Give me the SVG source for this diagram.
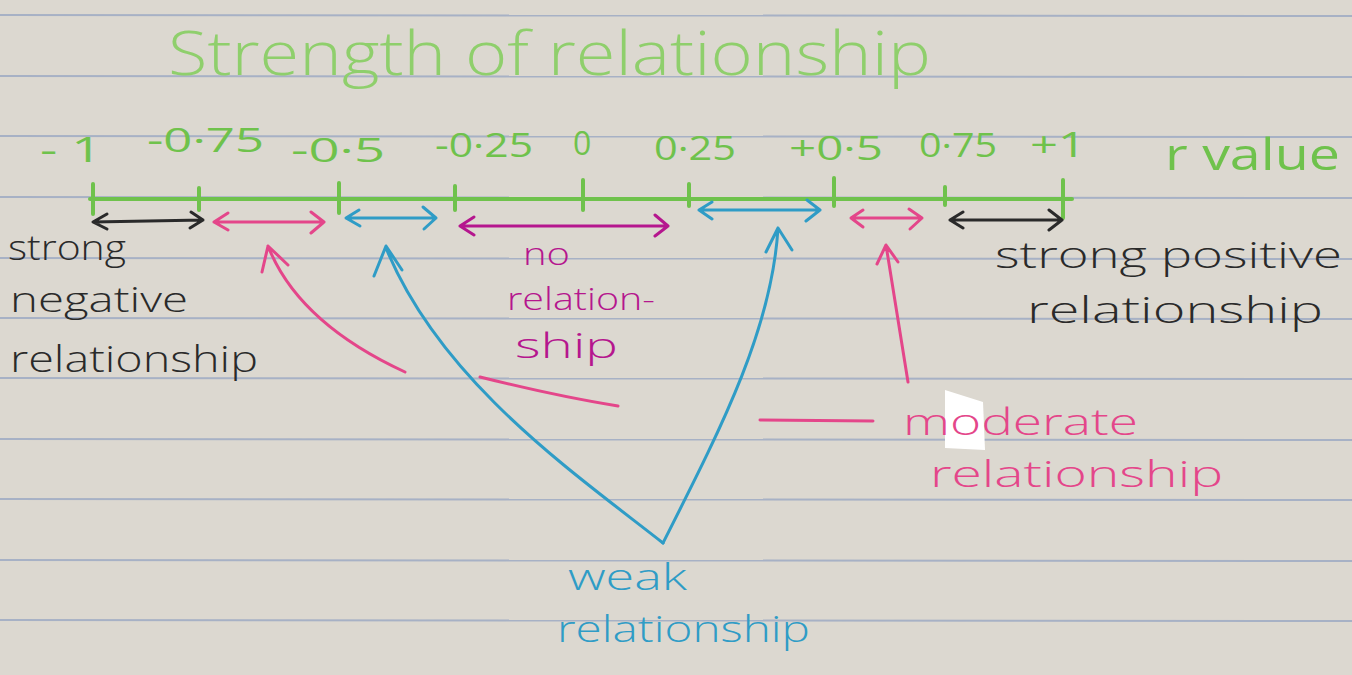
<svg xmlns="http://www.w3.org/2000/svg" width="1352" height="675" viewBox="0 0 1352 675">
<defs>
<style>
.paper{fill:#dcd8d0}
.rule{stroke:#a7b1c5;stroke-width:2}
.t{font-family:"Open Sans","Liberation Sans",sans-serif;font-weight:300}
.n{font-weight:400}
.green{fill:#6fc24c}
.title{fill:#8fcf6c}
.blk{fill:#2a2a2a}
.pink{fill:#e4468a}
.mag{fill:#b5168e}
.blue{fill:#2f9cc6}
.s{fill:none;stroke-linecap:round;stroke-linejoin:round;stroke-width:3}
.sg{stroke:#6fc24c;stroke-width:4}
.sk{stroke:#2a2a2a}
.sp{stroke:#e4468a}
.sm{stroke:#b5168e}
.sb{stroke:#2f9cc6}
</style>
</defs>
<rect class="paper" x="0" y="0" width="1352" height="675"/>
<g id="rules">
<line class="rule" x1="0" y1="15" x2="1352" y2="16"/>
<line class="rule" x1="0" y1="76" x2="1352" y2="77"/>
<line class="rule" x1="0" y1="136" x2="1352" y2="137"/>
<line class="rule" x1="0" y1="197" x2="1352" y2="198"/>
<line class="rule" x1="0" y1="258" x2="1352" y2="259"/>
<line class="rule" x1="0" y1="318" x2="1352" y2="319"/>
<line class="rule" x1="0" y1="378" x2="1352" y2="379"/>
<line class="rule" x1="0" y1="439" x2="1352" y2="440"/>
<line class="rule" x1="0" y1="499" x2="1352" y2="500"/>
<line class="rule" x1="0" y1="560" x2="1352" y2="561"/>
<line class="rule" x1="0" y1="620" x2="1352" y2="621"/>
</g>
<g id="title"><text class="t title" x="168" y="75" font-size="60" textLength="763" lengthAdjust="spacingAndGlyphs">Strength of relationship</text></g>
<g id="axis">
<path class="s sg" d="M90,199 L1072,199"/>
<path class="s sg" d="M93,184 L93,214 M199,188 L199,210 M339,183 L339,213 M455,186 L455,210 M583,180 L583,210 M689,184 L689,206 M834,178 L834,206 M945,187 L945,205 M1063,180 L1063,218"/>
<text class="t n green" x="40" y="162" font-size="34" textLength="62" lengthAdjust="spacingAndGlyphs">- 1</text>
<text class="t n green" x="147" y="152" font-size="32" textLength="117" lengthAdjust="spacingAndGlyphs">-0·75</text>
<text class="t n green" x="291" y="162" font-size="32" textLength="94" lengthAdjust="spacingAndGlyphs">-0·5</text>
<text class="t n green" x="435" y="157" font-size="32" textLength="98" lengthAdjust="spacingAndGlyphs">-0·25</text>
<text class="t n green" x="573" y="155" font-size="32">0</text>
<text class="t n green" x="654" y="160" font-size="32" textLength="82" lengthAdjust="spacingAndGlyphs">0·25</text>
<text class="t n green" x="789" y="160" font-size="32" textLength="94" lengthAdjust="spacingAndGlyphs">+0·5</text>
<text class="t n green" x="919" y="157" font-size="32" textLength="78" lengthAdjust="spacingAndGlyphs">0·75</text>
<text class="t n green" x="1030" y="157" font-size="34" textLength="56" lengthAdjust="spacingAndGlyphs">+1</text>
<text class="t n green" x="1165" y="170" font-size="44" textLength="175" lengthAdjust="spacingAndGlyphs">r value</text>
</g>
<g id="ranges">
<path class="s sk" d="M93,222 L203,220 M107,214 L93,222 L107,229 M191,212 L203,220 L190,228"/>
<path class="s sp" d="M214,222 L324,222 M228,213 L214,222 L228,230 M311,212 L324,222 L311,233"/>
<path class="s sb" d="M346,218 L436,218 M359,210 L346,218 L360,226 M423,207 L436,218 L424,229"/>
<path class="s sm" d="M460,226 L668,226 M474,217 L460,226 L474,235 M655,215 L668,226 L655,236"/>
<path class="s sb" d="M699,210 L820,210 M712,202 L699,210 L712,219 M807,200 L820,210 L806,221"/>
<path class="s sp" d="M851,218 L922,218 M863,210 L851,218 L863,227 M909,209 L922,218 L910,229"/>
<path class="s sk" d="M950,220 L1062,220 M963,212 L950,220 L963,228 M1049,210 L1062,220 L1049,230"/>
</g>
<g id="strong-negative">
<text class="t blk" x="8" y="260" font-size="34" textLength="118" lengthAdjust="spacingAndGlyphs">strong</text>
<text class="t blk" x="10" y="312" font-size="34" textLength="178" lengthAdjust="spacingAndGlyphs">negative</text>
<text class="t blk" x="10" y="372" font-size="36" textLength="248" lengthAdjust="spacingAndGlyphs">relationship</text>
</g>
<g id="no-relationship">
<text class="t mag" x="523" y="265" font-size="32" textLength="47" lengthAdjust="spacingAndGlyphs">no</text>
<text class="t mag" x="507" y="310" font-size="32" textLength="148" lengthAdjust="spacingAndGlyphs">relation-</text>
<text class="t mag" x="515" y="358" font-size="34" textLength="103" lengthAdjust="spacingAndGlyphs">ship</text>
</g>
<g id="strong-positive">
<text class="t blk" x="995" y="268" font-size="36" textLength="347" lengthAdjust="spacingAndGlyphs">strong positive</text>
<text class="t blk" x="1027" y="323" font-size="36" textLength="296" lengthAdjust="spacingAndGlyphs">relationship</text>
</g>
<g id="moderate-relationship">
<polygon points="945,390 983,402 985,450 945,448" fill="#ffffff"/>
<text class="t pink" x="903" y="435" font-size="36" textLength="235" lengthAdjust="spacingAndGlyphs">moderate</text>
<text class="t pink" x="930" y="487" font-size="36" textLength="293" lengthAdjust="spacingAndGlyphs">relationship</text>
</g>
<g id="weak-relationship">
<text class="t blue" x="568" y="590" font-size="36" textLength="119" lengthAdjust="spacingAndGlyphs">weak</text>
<text class="t blue" x="557" y="642" font-size="36" textLength="253" lengthAdjust="spacingAndGlyphs">relationship</text>
</g>
<g id="connectors">
<path class="s sb" d="M663,543 C570,470 440,380 386,248 M374,276 L386,246 L402,270"/>
<path class="s sb" d="M663,543 C720,430 772,330 778,228 M766,252 L778,228 L792,250"/>
<path class="s sp" d="M405,372 C340,342 290,302 268,246 M262,272 L268,246 L288,265"/>
<path class="s sp" d="M480,377 C540,392 580,400 618,406"/>
<path class="s sp" d="M760,420 L873,421"/>
<path class="s sp" d="M908,382 L886,245 M877,264 L886,245 L898,262"/>
</g>
</svg>
